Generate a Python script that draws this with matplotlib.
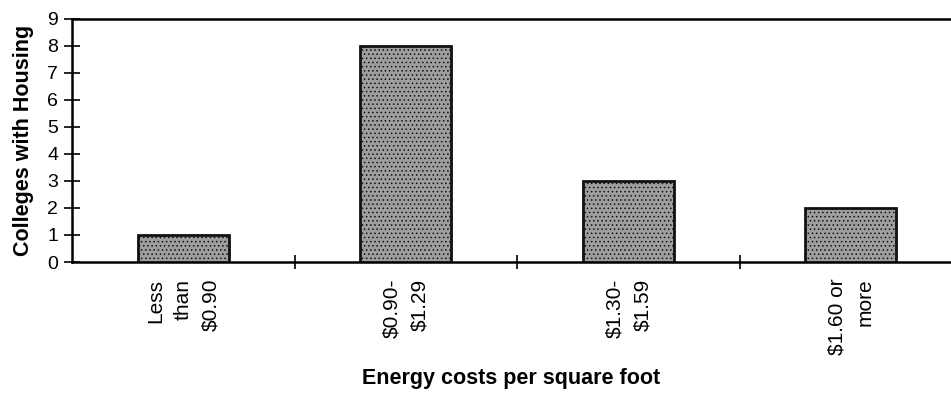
import matplotlib.pyplot as plt
from matplotlib.ticker import FixedLocator

plt.rcParams["font.family"] = ["Liberation Sans", "DejaVu Sans"]
plt.rcParams["hatch.color"] = "#666666"
plt.rcParams["hatch.linewidth"] = 0.6

# energy cost bands and number of colleges in each
categories = ["Less\nthan\n$0.90", "$0.90-\n$1.29", "$1.30-\n$1.59", "$1.60 or\nmore"]
colleges = [1, 8, 3, 2]
y_ticks = list(range(0, 10))

fig = plt.figure(figsize=(9.51, 3.94), dpi=100)
ax = fig.add_axes([0.0757, 0.335, 0.9243, 0.617])

x = list(range(len(categories)))
ax.bar(x, colleges, width=0.41, color="#9e9e9e", edgecolor="#111111",
       linewidth=2, hatch="....", zorder=3)

ax.set_xlim(-0.5, 3.45)
ax.set_ylim(0, 9)
ax.set_yticks(y_ticks)
ax.tick_params(axis="y", direction="inout", length=12, width=1.2,
               labelsize=14, pad=4)

ax.set_xticks(x)
ax.set_xticklabels(categories, rotation=90, fontsize=15, ha="center",
                   va="top", multialignment="right", linespacing=1.6)
ax.tick_params(axis="x", which="major", length=0, pad=12)
ax.xaxis.set_minor_locator(FixedLocator([0.5, 1.5, 2.5]))
ax.tick_params(axis="x", which="minor", direction="inout", length=10, width=1.2)

for side in ("left", "bottom", "top"):
    ax.spines[side].set_linewidth(1.8)
ax.spines["right"].set_visible(False)

ax.set_ylabel("Colleges with Housing", fontsize=15.5, fontweight="bold")
ax.yaxis.set_label_coords(-0.043, 0.5)
ax.set_xlabel("Energy costs per square foot", fontsize=15.5, fontweight="bold")
ax.xaxis.set_label_coords(0.5, -0.435)

fig.savefig("out.png", dpi=100, facecolor="white")
